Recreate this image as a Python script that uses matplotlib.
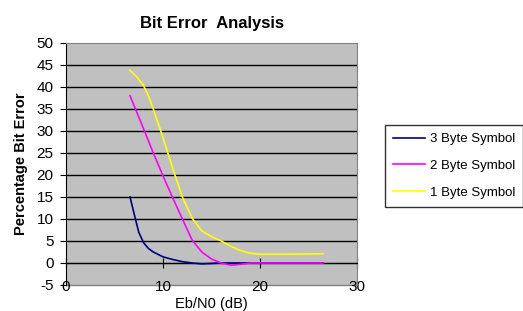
import matplotlib
matplotlib.use("Agg")
import matplotlib.pyplot as plt

plt.rcParams['font.family'] = ['Liberation Sans', 'DejaVu Sans']
plt.rcParams['axes.unicode_minus'] = False

title = "Bit Error  Analysis"
x_label = "Eb/N0 (dB)"
y_label = "Percentage Bit Error"
series_names = ["3 Byte Symbol", "2 Byte Symbol", "1 Byte Symbol"]

x3 = [6.6, 7.1, 7.5, 8.0, 8.5, 9.0, 10.0, 11.0, 12.0, 13.0, 14.0, 15.0, 16.0, 18.0, 20.0, 23.0, 26.5]
y3 = [15.0, 10.5, 7.0, 4.6, 3.3, 2.5, 1.4, 0.8, 0.3, 0.0, -0.2, -0.1, 0.0, 0.0, 0.0, 0.0, 0.0]

x2 = [6.6, 8.0, 9.0, 10.0, 11.0, 12.0, 13.0, 14.0, 15.0, 16.0, 17.0, 18.0, 19.0, 20.0, 23.0, 26.5]
y2 = [38.0, 30.5, 25.0, 19.8, 14.8, 10.0, 5.2, 2.5, 0.9, 0.0, -0.5, -0.3, 0.0, 0.0, 0.0, 0.0]

x1 = [6.6, 7.3, 8.0, 8.5, 9.0, 10.0, 11.0, 12.0, 13.0, 14.0, 15.0, 16.0, 17.0, 18.0, 19.0, 20.0, 23.0, 26.5]
y1 = [43.8, 42.3, 40.3, 38.0, 35.0, 28.5, 21.5, 15.0, 10.2, 7.3, 6.0, 5.0, 3.8, 2.8, 2.2, 2.0, 2.0, 2.1]

colors = ['#000080', '#FF00FF', '#FFFF00']

fig = plt.figure(figsize=(5.23, 3.11), dpi=100)
ax = fig.add_axes([66/523, 1-285/311, (357-66)/523, (285-43)/311])
ax.set_facecolor('#C0C0C0')

for xs, ys, c, n in zip([x3, x2, x1], [y3, y2, y1], colors, series_names):
    ax.plot(xs, ys, color=c, lw=1.2, label=n, zorder=3)

ax.set_xlim(0, 30)
ax.set_ylim(-5, 50)
ax.set_xticks([0, 10, 20, 30])
ax.set_yticks(range(-5, 51, 5))
for yv in range(0, 50, 5):
    ax.axhline(yv, color='black', lw=1.0, zorder=1)
ax.axhline(-5, color='#808080', lw=1.0, zorder=1, clip_on=False)

ax.spines['bottom'].set_position(('data', 0))
ax.spines['bottom'].set_color('black')
ax.spines['left'].set_color('black')
ax.spines['top'].set_color('#808080')
ax.spines['right'].set_color('#808080')

ax.tick_params(axis='y', direction='out', length=4, labelsize=11, pad=5, colors='black')
ax.tick_params(axis='x', direction='inout', length=7, labelsize=11, pad=9, colors='black')

ax.set_title(title, fontsize=12, fontweight='bold', pad=11)
ax.set_xlabel(x_label, fontsize=10.5, labelpad=2)
ax.set_ylabel(y_label, fontsize=10.5, fontweight='bold', labelpad=6)

leg = fig.legend(loc='upper left', bbox_to_anchor=(385/523, 1-125/311), fontsize=9.5,
                 frameon=True, fancybox=False, edgecolor='black', handlelength=2.4,
                 borderpad=0.6, labelspacing=1.1, handletextpad=0.4, borderaxespad=0)
leg.get_frame().set_linewidth(1.0)

fig.savefig('out.png', dpi=100)
